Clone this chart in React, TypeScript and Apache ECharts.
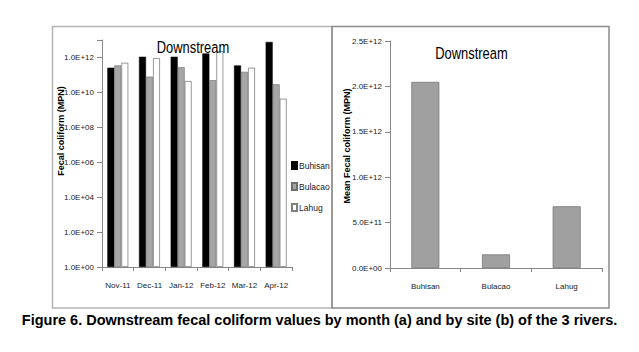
import React, { useEffect, useRef } from 'react';
import * as echarts from 'echarts';

// ---- data ----
const months = ['Nov-11', 'Dec-11', 'Jan-12', 'Feb-12', 'Mar-12', 'Apr-12'];
const buhisan = [2.6e11, 1.1e12, 1.1e12, 1.7e12, 3.5e11, 7.8e12];
const bulacao = [3.5e11, 8e10, 2.8e11, 5e10, 1.5e11, 2.9e10];
const lahug = [5e11, 9.3e11, 4.5e10, 2.3e12, 2.6e11, 4.4e9];
const sites = ['Buhisan', 'Bulacao', 'Lahug'];
const siteMeans = [2.05e12, 1.5e11, 6.8e11];

const panelTitle = 'Downstream';
const leftAxisName = 'Fecal coliform (MPN)';
const rightAxisName = 'Mean Fecal coliform (MPN)';
const caption = 'Figure 6. Downstream fecal coliform values by month (a) and by site (b) of the 3 rivers.';

const SANS = "'Liberation Sans', Arial, sans-serif";
const AXIS = '#868686';

function sci(v: number): string {
  const [m, e] = v.toExponential(1).split('e');
  const n = parseInt(e, 10);
  return m + 'E' + (n < 0 ? '-' : '+') + String(Math.abs(n)).padStart(2, '0');
}

export default function App() {
  const ref = useRef<HTMLDivElement>(null);
  useEffect(() => {
    if (!ref.current) return;
    const chart = echarts.init(ref.current, undefined, { renderer: 'svg' });
    const axisCommon = {
      axisLine: { show: true, lineStyle: { color: AXIS, width: 1 } },
      splitLine: { show: false },
    };
    const xLabel = { color: '#222', fontSize: 8, margin: 14, interval: 0, fontFamily: SANS };
    const yLabel = { color: '#222', fontSize: 8, margin: 8, fontFamily: SANS };
    chart.setOption({
      animation: false,
      backgroundColor: '#ffffff',
      textStyle: { fontFamily: SANS },
      grid: [
        { left: 102, top: 40, width: 190, height: 227 },
        { left: 390, top: 41, width: 212, height: 227 },
      ],
      xAxis: [
        {
          type: 'category', gridIndex: 0, data: months, ...axisCommon,
          axisTick: { show: true, length: 4, lineStyle: { color: AXIS } },
          axisLabel: xLabel,
        },
        {
          type: 'category', gridIndex: 1, data: sites, ...axisCommon,
          axisTick: { show: true, length: 4, lineStyle: { color: AXIS } },
          axisLabel: xLabel,
        },
      ],
      yAxis: [
        {
          type: 'log', logBase: 10, gridIndex: 0, min: 1, max: 1e13, interval: 2, ...axisCommon,
          axisTick: { show: true, length: 5, lineStyle: { color: AXIS } },
          axisLabel: {
            ...yLabel,
            formatter: (v: number) => {
              const ex = Math.round(Math.log10(v));
              return ex % 2 === 0 && ex <= 12 ? sci(v) : '';
            },
          },
        },
        {
          type: 'value', gridIndex: 1, min: 0, max: 2.5e12, interval: 5e11, ...axisCommon,
          axisTick: { show: true, length: 5, lineStyle: { color: AXIS } },
          axisLabel: { ...yLabel, formatter: (v: number) => sci(v) },
        },
      ],
      legend: {
        data: ['Buhisan', 'Bulacao', 'Lahug'],
        orient: 'vertical', left: 291, top: 161, padding: 0,
        itemWidth: 5, itemHeight: 7, itemGap: 12, icon: 'rect',
        textStyle: { fontSize: 8.5, color: '#222', fontFamily: SANS, padding: [0, 0, 0, -3] },
      },
      series: [
        {
          type: 'bar', name: 'Buhisan', data: buhisan, xAxisIndex: 0, yAxisIndex: 0,
          barWidth: 7, barGap: '0%',
          itemStyle: { color: '#000000', borderColor: '#000000', borderWidth: 0.5 },
        },
        {
          type: 'bar', name: 'Bulacao', data: bulacao, xAxisIndex: 0, yAxisIndex: 0,
          barWidth: 7, barGap: '0%',
          itemStyle: { color: '#a6a6a6', borderColor: '#6e6e6e', borderWidth: 0.6 },
        },
        {
          type: 'bar', name: 'Lahug', data: lahug, xAxisIndex: 0, yAxisIndex: 0,
          barWidth: 7, barGap: '0%',
          itemStyle: { color: '#ffffff', borderColor: '#7f7f7f', borderWidth: 0.8 },
        },
        {
          type: 'bar', name: 'Mean', data: siteMeans, xAxisIndex: 1, yAxisIndex: 1,
          barWidth: 28,
          itemStyle: { color: '#a0a0a0', borderColor: '#777777', borderWidth: 0.8 },
        },
      ],
      graphic: [
        {
          type: 'rect', z: 0,
          shape: { x: 52.5, y: 26.5, width: 279.5, height: 281.5 },
          style: { fill: 'none', stroke: '#b4b4b4', lineWidth: 1.5 },
        },
        {
          type: 'rect', z: 0,
          shape: { x: 332, y: 26.5, width: 277, height: 281.5 },
          style: { fill: 'none', stroke: '#8c8c8c', lineWidth: 1.5 },
        },
        {
          type: 'text', z: 10, x: 193, y: 46.5, scaleX: 0.76,
          style: { text: panelTitle, fill: '#000', font: `17px ${SANS}`, align: 'center', verticalAlign: 'middle' },
        },
        {
          type: 'text', z: 10, x: 471.5, y: 53, scaleX: 0.76,
          style: { text: panelTitle, fill: '#000', font: `17px ${SANS}`, align: 'center', verticalAlign: 'middle' },
        },
        {
          type: 'text', z: 10, x: 61, y: 131, rotation: Math.PI / 2,
          style: { text: leftAxisName, fill: '#000', font: `bold 9px ${SANS}`, align: 'center', verticalAlign: 'middle' },
        },
        {
          type: 'text', z: 10, x: 347, y: 146, rotation: Math.PI / 2,
          style: { text: rightAxisName, fill: '#000', font: `bold 9px ${SANS}`, align: 'center', verticalAlign: 'middle' },
        },
        {
          type: 'text', z: 10, x: 319.5, y: 320,
          style: { text: caption, fill: '#000', font: `bold 14.5px ${SANS}`, align: 'center', verticalAlign: 'middle' },
        },
      ],
    });
    return () => chart.dispose();
  }, []);
  return (
    <div
      ref={ref}
      style={{ position: 'fixed', left: 0, top: 0, width: 639, height: 352, background: '#fff' }}
    />
  );
}
